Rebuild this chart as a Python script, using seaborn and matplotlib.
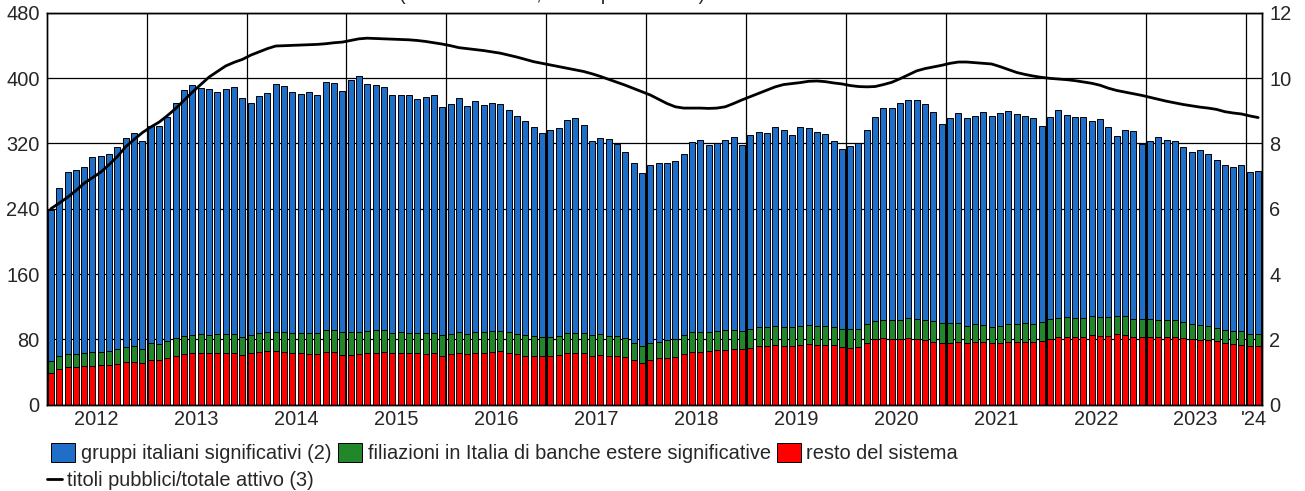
import numpy as np
import pandas as pd
import seaborn as sns
import matplotlib.pyplot as plt
from matplotlib.patches import Patch
from matplotlib.lines import Line2D

sns.set_style("white")
plt.rcParams["font.family"] = ["Liberation Sans", "DejaVu Sans"]
plt.rcParams["font.size"] = 14.4

# monthly data, Jan 2012 - Feb 2024 (billions of euro)
gruppi = [184.5, 205.4, 222.6, 225.0, 228.1, 239.1, 240.8, 241.6, 247.2, 255.7, 261.1, 253.9,
          265.8, 266.7, 274.7, 287.7, 300.9, 305.3, 301.2, 301.3, 295.9, 299.8, 302.4, 292.5,
          285.0, 290.6, 293.0, 303.3, 301.0, 295.9, 291.8, 295.1, 291.6, 304.4, 302.9, 295.1,
          308.4, 313.6, 302.1, 299.2, 297.5, 291.0, 290.6, 290.6, 286.5, 289.6, 290.8, 279.2,
          282.0, 287.0, 279.8, 282.9, 278.8, 278.4, 278.0, 271.9, 266.0, 262.4, 256.0, 250.5,
          253.5, 254.5, 260.8, 263.7, 254.6, 237.5, 240.8, 241.3, 235.3, 226.9, 220.4, 211.4,
          217.8, 218.8, 217.2, 217.5, 221.7, 232.7, 234.6, 229.4, 230.3, 232.6, 236.9, 227.8,
          236.9, 238.8, 238.0, 243.3, 241.3, 235.5, 243.3, 241.6, 237.6, 235.0, 228.2, 221.3,
          224.2, 226.9, 237.6, 249.9, 259.3, 259.7, 266.1, 267.0, 268.1, 264.5, 255.9, 243.7,
          251.4, 258.0, 254.3, 255.1, 260.0, 258.0, 260.4, 260.5, 256.4, 254.3, 252.3, 240.3,
          247.1, 254.4, 247.8, 246.2, 245.5, 238.8, 242.9, 233.5, 220.4, 227.8, 230.3, 214.7,
          218.0, 223.3, 220.7, 220.0, 214.6, 211.4, 214.3, 211.0, 205.7, 202.1, 200.5, 204.1,
          197.6, 199.2]
filiazioni = [15.1, 16.3, 16.2, 16.2, 15.9, 16.4, 16.0, 16.4, 18.0, 18.0, 19.2, 17.1,
              20.5, 19.6, 21.2, 21.7, 22.1, 22.8, 22.9, 22.4, 22.9, 22.5, 22.5, 21.6,
              22.1, 22.9, 23.6, 24.0, 24.5, 24.1, 24.9, 25.4, 25.8, 26.9, 26.9, 27.7,
              27.7, 27.4, 27.7, 28.1, 26.9, 24.9, 25.7, 25.3, 25.3, 25.7, 24.5, 25.7,
              24.9, 25.3, 24.2, 24.9, 24.9, 25.7, 24.8, 24.9, 24.5, 24.9, 23.6, 23.3,
              22.4, 23.2, 24.5, 24.9, 24.5, 25.4, 24.9, 24.0, 23.6, 24.1, 20.9, 20.5,
              20.5, 20.0, 21.2, 22.1, 23.3, 24.4, 24.5, 23.2, 23.6, 23.7, 23.3, 22.8,
              23.7, 23.2, 23.2, 23.7, 23.2, 23.6, 22.8, 22.8, 22.8, 22.4, 22.4, 21.3,
              22.4, 22.0, 22.5, 22.1, 22.4, 22.4, 23.3, 24.8, 24.9, 24.9, 24.9, 24.4,
              24.4, 22.4, 21.2, 21.6, 21.6, 20.3, 21.2, 22.0, 22.0, 22.4, 21.6, 23.3,
              24.0, 23.2, 23.6, 23.6, 23.2, 22.9, 23.2, 22.8, 22.4, 23.3, 22.0, 21.6,
              21.2, 20.8, 20.4, 20.4, 18.8, 18.4, 17.6, 16.8, 15.9, 15.9, 15.8, 16.2,
              15.1, 15.1]
resto = [38.4, 43.3, 45.8, 45.8, 47.4, 47.8, 48.2, 49.0, 49.8, 52.3, 52.7, 51.5,
         54.7, 54.7, 56.8, 59.6, 62.0, 62.9, 63.7, 62.9, 63.7, 63.7, 63.7, 60.9,
         62.9, 64.5, 65.4, 65.4, 64.5, 63.3, 63.3, 62.0, 61.6, 64.2, 64.2, 60.9,
         60.9, 62.0, 62.9, 63.7, 64.2, 62.9, 63.3, 62.9, 62.9, 61.7, 63.7, 59.6,
         61.7, 63.7, 62.0, 63.7, 63.7, 64.9, 65.4, 63.7, 62.5, 60.1, 60.1, 59.2,
         60.1, 61.3, 63.7, 62.9, 62.9, 59.6, 61.3, 60.1, 60.1, 58.0, 54.3, 51.5,
         54.7, 56.8, 57.6, 58.8, 62.0, 64.2, 64.9, 65.4, 66.6, 67.4, 67.8, 67.8,
         69.4, 72.3, 71.5, 72.7, 71.9, 71.5, 73.6, 74.4, 73.6, 73.6, 72.7, 70.9,
         69.8, 71.1, 75.9, 80.0, 81.3, 80.9, 80.0, 81.7, 80.0, 79.2, 77.2, 75.2,
         75.2, 77.2, 75.2, 76.8, 76.4, 75.2, 75.6, 76.8, 77.2, 77.2, 76.8, 78.0,
         80.9, 82.9, 83.3, 82.9, 83.3, 85.7, 84.1, 84.1, 86.6, 85.3, 82.5, 82.9,
         83.3, 83.3, 82.9, 82.9, 82.1, 80.0, 79.6, 79.6, 77.6, 75.9, 74.4, 73.6,
         71.9, 71.9]
# government securities / total assets (percent, right axis)
titoli = [6.00, 6.17, 6.35, 6.55, 6.78, 6.95, 7.12, 7.35, 7.60, 7.90, 8.12, 8.33,
          8.50, 8.65, 8.85, 9.07, 9.32, 9.57, 9.80, 10.03, 10.20, 10.37, 10.48, 10.57,
          10.70, 10.80, 10.90, 10.98, 10.99, 11.00, 11.01, 11.02, 11.03, 11.05, 11.08, 11.10,
          11.15, 11.20, 11.22, 11.21, 11.20, 11.19, 11.18, 11.17, 11.15, 11.12, 11.08, 11.04,
          10.99, 10.93, 10.90, 10.87, 10.84, 10.80, 10.76, 10.70, 10.64, 10.57, 10.50, 10.45,
          10.40, 10.35, 10.30, 10.25, 10.20, 10.13, 10.05, 9.96, 9.87, 9.78, 9.68, 9.58,
          9.48, 9.35, 9.22, 9.12, 9.08, 9.08, 9.08, 9.07, 9.08, 9.12, 9.22, 9.33,
          9.43, 9.53, 9.63, 9.73, 9.80, 9.83, 9.86, 9.90, 9.91, 9.89, 9.85, 9.82,
          9.77, 9.74, 9.73, 9.74, 9.80, 9.87, 9.98, 10.10, 10.22, 10.29, 10.34, 10.39,
          10.45, 10.49, 10.49, 10.47, 10.45, 10.43, 10.35, 10.26, 10.17, 10.11, 10.06, 10.02,
          9.99, 9.97, 9.95, 9.92, 9.88, 9.84, 9.78, 9.69, 9.62, 9.57, 9.52, 9.47,
          9.41, 9.35, 9.29, 9.24, 9.19, 9.15, 9.11, 9.08, 9.04, 8.97, 8.93, 8.90,
          8.84, 8.79]
year_labels = ["2012", "2013", "2014", "2015", "2016", "2017", "2018", "2019",
               "2020", "2021", "2022", "2023", "'24"]

months = pd.date_range("2012-01-01", periods=len(gruppi), freq="MS").strftime("%Y-%m")
df = pd.DataFrame({"mese": months, "gruppi": gruppi, "filiazioni": filiazioni,
                   "resto": resto, "titoli": titoli})
df["top_fil"] = df["resto"] + df["filiazioni"]
df["top_tot"] = df["top_fil"] + df["gruppi"]

blue = "#1f6fc9"
green = "#22862a"
red = "#ff0000"

fig = plt.figure(figsize=(13.05, 4.91), dpi=100)
ax = fig.add_axes([46.7 / 1305, 1 - 404.7 / 491, (1262.3 - 46.7) / 1305, (404.7 - 12.7) / 491])

# stacked bars drawn as overlapping cumulative bars
for col, c in [("top_tot", blue), ("top_fil", green), ("resto", red)]:
    sns.barplot(data=df, x="mese", y=col, color=c, saturation=1, width=0.72,
                edgecolor="black", linewidth=0.7, ax=ax, zorder=2)

n = len(df)
ax.set_xlim(-0.5, n - 0.5)
ax.set_ylim(0, 480)
ax.set_yticks(range(0, 481, 80))
ax.set_xlabel("")
ax.set_ylabel("")

# year labels in the middle of each year, grid lines at year boundaries
centers = [6 * (2 * i + 1) - 0.5 for i in range(12)] + [144.5]
ax.set_xticks(centers)
ax.set_xticklabels(year_labels)
ax.set_xticks([12 * i - 0.5 for i in range(1, 13)], minor=True)
ax.grid(False)
ax.grid(True, which="minor", axis="x", color="black", linewidth=0.9)
ax.grid(True, which="major", axis="y", color="black", linewidth=0.9)
ax.set_axisbelow(True)
ax.tick_params(axis="both", which="both", length=0)
ax.tick_params(axis="x", pad=4)
ax.tick_params(axis="y", pad=5)

ax2 = ax.twinx()
sns.lineplot(x=np.arange(n), y=df["titoli"].values, color="black", linewidth=2, ax=ax2)
ax2.set_ylim(0, 12)
ax2.set_yticks(range(0, 13, 2))
ax2.set_xlim(-0.5, n - 0.5)
ax2.tick_params(axis="y", length=0, pad=5)

for a in (ax, ax2):
    for s in a.spines.values():
        s.set_color("black")
        s.set_linewidth(1)

fig.text(552 / 1305, 0.999, "(miliardi di euro; valori percentuali)", ha="center",
         va="baseline", fontsize=14.4)

h1 = [Patch(facecolor=blue, edgecolor="black", linewidth=0.7),
      Patch(facecolor=green, edgecolor="black", linewidth=0.7),
      Patch(facecolor=red, edgecolor="black", linewidth=0.7)]
l1 = ["gruppi italiani significativi (2)",
      "filiazioni in Italia di banche estere significative",
      "resto del sistema"]
fig.legend(h1, l1, loc="center left", bbox_to_anchor=(51 / 1305, 1 - 453 / 491), ncol=3,
           frameon=False, borderpad=0, borderaxespad=0, handlelength=1.2,
           handleheight=1.1, handletextpad=0.3, columnspacing=0.3, fontsize=14.4)
fig.legend([Line2D([0], [0], color="black", linewidth=2)], ["titoli pubblici/totale attivo (3)"],
           loc="center left", bbox_to_anchor=(47 / 1305, 1 - 480 / 491), frameon=False,
           borderpad=0, borderaxespad=0, handlelength=0.75, handletextpad=0.25, fontsize=14.4)

fig.savefig("out.png", dpi=100)
